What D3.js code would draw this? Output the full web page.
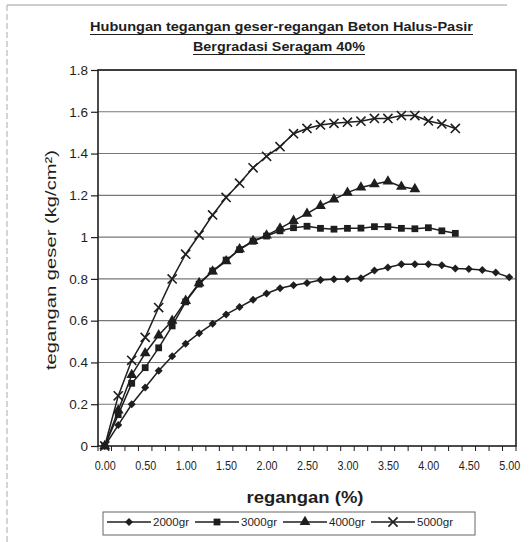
<!DOCTYPE html>
<html><head><meta charset="utf-8">
<script src="https://cdn.jsdelivr.net/npm/d3@7"></script>
<style>body{margin:0;background:#fff;} svg{display:block;} text{font-family:"Liberation Sans",Arial,sans-serif;fill:#1e1e1e;}</style>
</head><body>
<svg id="c" width="530" height="542"></svg>
<script>
const categories = ["0.00","0.17","0.33","0.50","0.67","0.83","1.00","1.17","1.33","1.50","1.67","1.83","2.00","2.17","2.33","2.50","2.67","2.83","3.00","3.17","3.33","3.50","3.67","3.83","4.00","4.17","4.33","4.50","4.67","4.83","5.00"];
const xTickLabels = ["0.00","0.50","1.00","1.50","2.00","2.50","3.00","3.50","4.00","4.50","5.00"];
const yTickValues = [0,0.2,0.4,0.6,0.8,1.0,1.2,1.4,1.6,1.8];
const yTickLabels = ["0","0.2","0.4","0.6","0.8","1","1.2","1.4","1.6","1.8"];
const seriesNames = ["2000gr","3000gr","4000gr","5000gr"];
const s2000 = [0,0.10,0.20,0.28,0.36,0.43,0.49,0.54,0.585,0.63,0.665,0.70,0.73,0.755,0.77,0.78,0.795,0.798,0.80,0.803,0.84,0.855,0.87,0.87,0.87,0.865,0.85,0.847,0.842,0.83,0.808];
const s3000 = [0,0.15,0.30,0.375,0.47,0.575,0.69,0.775,0.838,0.89,0.94,0.98,1.005,1.03,1.045,1.052,1.042,1.038,1.042,1.043,1.05,1.05,1.042,1.04,1.045,1.03,1.018,null,null,null,null];
const s4000 = [0,0.17,0.34,0.444,0.53,0.60,0.695,0.78,0.836,0.885,0.942,0.982,1.008,1.042,1.078,1.112,1.15,1.181,1.213,1.238,1.253,1.267,1.241,1.23,null,null,null,null,null,null,null];
const s5000 = [0,0.24,0.41,0.52,0.663,0.80,0.918,1.01,1.106,1.19,1.258,1.332,1.387,1.433,1.495,1.52,1.537,1.545,1.55,1.555,1.568,1.568,1.582,1.582,1.556,1.542,1.52,null,null,null,null];
const seriesValues = [s2000,s3000,s4000,s5000];
const titleLines = ["Hubungan tegangan geser-regangan Beton Halus-Pasir","Bergradasi Seragam 40%"];
const xTitle = "regangan (%)";
const yTitle = "tegangan geser (kg/cm²)";

const svg = d3.select("#c");
const L=98,R=516,T=70,B=446;
const ink="#1e1e1e";

// outer frame (scan border)
svg.append("line").attr("x1",7).attr("x2",507).attr("y1",5).attr("y2",5).attr("stroke","#9a9a9a").attr("stroke-width",1);
svg.append("line").attr("x1",7).attr("x2",7).attr("y1",5).attr("y2",542).attr("stroke","#aaa").attr("stroke-width",1).attr("stroke-dasharray","6,3");

const x = d3.scalePoint().domain(categories).range([L,R]).padding(0.5);
const xb = d3.scaleBand().domain(categories).range([L,R]);
const y = d3.scaleLinear().domain([0,1.8]).range([B,T]);

// gridlines
svg.append("g").selectAll("line").data(yTickValues.slice(1)).join("line")
  .attr("x1",L).attr("x2",R).attr("y1",d=>y(d)).attr("y2",d=>y(d))
  .attr("stroke","#777").attr("stroke-width",1.1);

// plot frame
svg.append("rect").attr("x",L).attr("y",T).attr("width",R-L).attr("height",B-T)
  .attr("fill","none").attr("stroke",ink).attr("stroke-width",1.6);

// y axis
const ya = svg.append("g").attr("transform",`translate(${L},0)`)
  .call(d3.axisLeft(y).tickValues(yTickValues).tickFormat((d,i)=>yTickLabels[i]).tickSize(7).tickPadding(3));
ya.select(".domain").remove();
ya.selectAll("line").attr("stroke",ink).attr("stroke-width",1.2);
ya.selectAll("text").attr("font-size",13.5).attr("fill","#3a3a3a").style("font-family","Liberation Sans, Arial");

// x axis: labels
const xa = svg.append("g").attr("transform",`translate(0,${B})`)
  .call(d3.axisBottom(x).tickValues(xTickLabels).tickSize(0).tickPadding(15));
xa.select(".domain").remove();
xa.selectAll("text").attr("font-size",12).attr("fill","#2a2a2a").style("font-family","Liberation Sans, Arial")
  .attr("textLength",21).attr("lengthAdjust","spacingAndGlyphs");
// x axis minor ticks at category boundaries
const bounds = categories.map(c=>xb(c)).concat([xb(categories[categories.length-1])+xb.bandwidth()]);
svg.append("g").selectAll("line").data(bounds).join("line")
  .attr("x1",d=>d).attr("x2",d=>d).attr("y1",B).attr("y2",B+5)
  .attr("stroke",ink).attr("stroke-width",1);

// series
const symDiamond = d3.symbol(d3.symbolSquare,32)();
const symSquare = d3.symbol(d3.symbolSquare,46)();
const symTri = d3.symbol(d3.symbolTriangle,50)();
const symX = d3.symbol(d3.symbolX,56)();
const markers = [
  {path:symDiamond, rot:45, fill:ink, stroke:"none"},
  {path:symSquare, rot:0, fill:ink, stroke:"none"},
  {path:symTri, rot:0, fill:ink, stroke:"none"},
  {path:symX, rot:0, fill:"none", stroke:ink}
];
const line = d3.line().defined(d=>d.v!==null).x(d=>x(d.c)).y(d=>y(d.v));
seriesValues.forEach((vals,si)=>{
  const data = vals.map((v,i)=>({c:categories[i],v}));
  const g = svg.append("g");
  g.append("path").datum(data).attr("d",line).attr("fill","none").attr("stroke",ink).attr("stroke-width",1.5);
  const m = markers[si];
  g.selectAll("path.m").data(data.filter(d=>d.v!==null)).join("path").attr("class","m")
    .attr("d",m.path).attr("transform",d=>`translate(${x(d.c)},${y(d.v)}) rotate(${m.rot})`)
    .attr("fill",m.fill).attr("stroke",m.stroke).attr("stroke-width",1.6);
});

// title
const titleW = [383,172];
titleLines.forEach((t,i)=>{
  const cx = i===0 ? 281.5 : 279;
  svg.append("text").attr("x",cx).attr("y",31+i*20).attr("text-anchor","middle")
    .attr("font-size",13.5).attr("font-weight","bold")
    .attr("textLength",titleW[i]).attr("lengthAdjust","spacingAndGlyphs").text(t);
  svg.append("line").attr("x1",cx-titleW[i]/2).attr("x2",cx+titleW[i]/2).attr("y1",34.5+i*20).attr("y2",34.5+i*20)
    .attr("stroke",ink).attr("stroke-width",1.1);
});

// axis titles
svg.append("text").attr("transform","translate(56,260) rotate(-90)").attr("text-anchor","middle")
  .attr("font-size",15.5).attr("fill","#2a2a2a").attr("textLength",220).attr("lengthAdjust","spacingAndGlyphs").text(yTitle);
svg.append("text").attr("x",305).attr("y",503).attr("text-anchor","middle")
  .attr("font-size",17).attr("font-weight","bold").attr("textLength",117).attr("lengthAdjust","spacingAndGlyphs").text(xTitle);

// legend
svg.append("rect").attr("x",103).attr("y",512).attr("width",372).attr("height",23)
  .attr("fill","#fff").attr("stroke","#666").attr("stroke-width",1);
const lx0 = 107, lstep = 88, ly = 522;
seriesNames.forEach((n,i)=>{
  const gx = lx0 + i*lstep;
  svg.append("line").attr("x1",gx).attr("x2",gx+44).attr("y1",ly).attr("y2",ly).attr("stroke",ink).attr("stroke-width",1.5);
  const m = markers[i];
  svg.append("path").attr("d",m.path).attr("transform",`translate(${gx+22},${ly}) rotate(${m.rot})`)
    .attr("fill",m.fill).attr("stroke",m.stroke).attr("stroke-width",1.6);
  svg.append("text").attr("x",gx+46).attr("y",ly+3.5).attr("font-size",10).attr("textLength",36).attr("lengthAdjust","spacingAndGlyphs").text(n);
});
</script>
</body></html>
